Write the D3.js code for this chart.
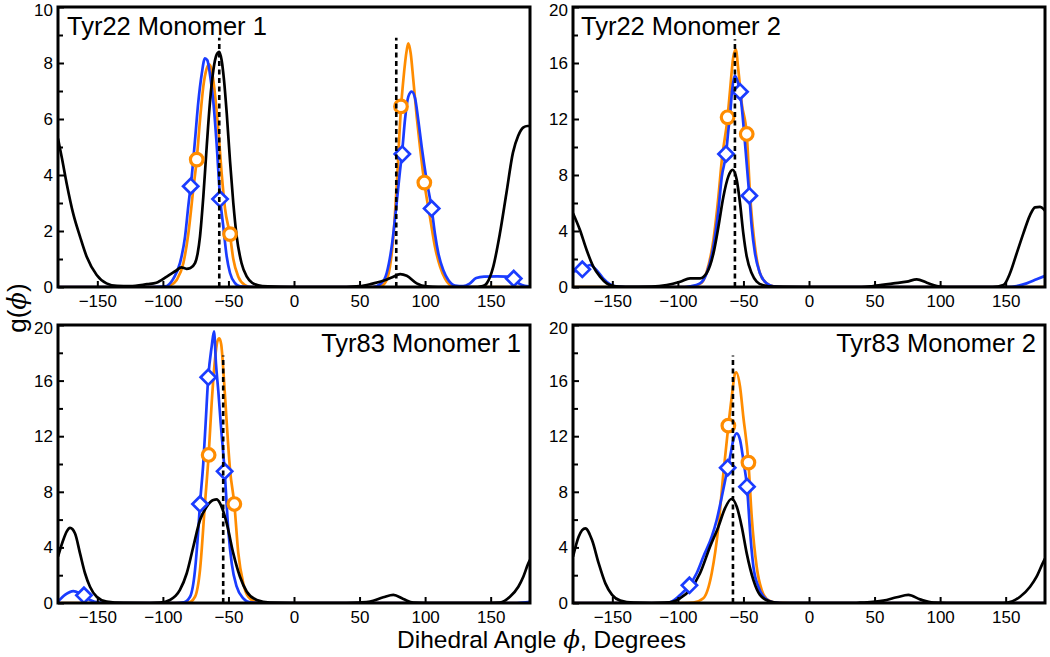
<!DOCTYPE html>
<html><head><meta charset="utf-8">
<script src="https://cdn.jsdelivr.net/npm/d3@7"></script>
<style>
body{margin:0;background:#fff}
svg{display:block}
text{font-family:"Liberation Sans",Arial,sans-serif;fill:#000}
</style>
</head><body>
<svg id="c" width="1050" height="657"></svg>
<script>
// ---------------- DATA ----------------
const panelTitles = ["Tyr22 Monomer 1", "Tyr22 Monomer 2", "Tyr83 Monomer 1", "Tyr83 Monomer 2"];
const xTicks = [-150, -100, -50, 0, 50, 100, 150];
const yMaxes = [10, 20, 20, 20];
const yMajorA = [0, 2, 4, 6, 8, 10];
const yMinorA = [1, 3, 5, 7, 9];
const yMajorB = [0, 4, 8, 12, 16, 20];
const yMinorB = [2, 6, 10, 14, 18];
const refAngles = [[-57, 78], [-56.5], [-54], [-58]];
const refHeights = [8.9, 17.7, 17.8, 17.8];

// Tyr22 Monomer 1
const p1Black = [[-180,5.3],[-177,4.6],[-173.4,3.7],[-168.3,2.6],[-163.2,1.8],[-158.1,1.08],[-150.5,0.43],[-143,0.13],[-135,0.04],[-125,0.03],[-112,0.1],[-105,0.15],[-97,0.37],[-90,0.58],[-86,0.7],[-82,0.65],[-79,0.68],[-75.5,0.85],[-73.5,1.2],[-71.7,1.8],[-69.2,3.2],[-66.6,5.0],[-64.1,6.6],[-61.5,7.75],[-59,8.3],[-57,8.4],[-55.2,8.1],[-53.4,7.4],[-51.3,6.2],[-48.8,4.5],[-46.3,3.0],[-43.7,1.8],[-40,0.85],[-36,0.37],[-32,0.15],[-28,0.07],[-20,0.02],[0,0],[40,0],[50,0.03],[58,0.1],[68,0.22],[75,0.35],[81,0.46],[86,0.4],[93.6,0.13],[101,0.02],[110,0],[140,0],[144,0.03],[147,0.13],[152,0.73],[157,1.9],[162,3.35],[167,4.8],[171,5.4],[175,5.7],[178,5.75],[180,5.75]];
const p1Blue = [[-180,0],[-110,0],[-98.4,0.02],[-92,0.3],[-87,0.85],[-83.1,1.8],[-80.6,2.9],[-78,3.95],[-75.5,5.25],[-73,6.6],[-70.4,7.6],[-67.9,8.17],[-66.1,8.1],[-64.1,7.6],[-61.5,6.6],[-59,5.1],[-56.4,3.2],[-53.9,2.15],[-51.3,1.08],[-48.8,0.5],[-45,0.14],[-41,0.02],[-30,0],[60,0],[66.8,0.14],[70.7,0.5],[74.5,1.44],[78.3,3.0],[80.5,4.0],[82.6,4.9],[84.7,6.0],[87.2,6.8],[89.8,6.98],[92.3,6.75],[94.8,5.96],[97.4,5.0],[101.2,3.8],[105,2.8],[107.5,1.9],[110.1,1.2],[113.9,0.6],[117.7,0.25],[122.8,0.05],[129,0.03],[134,0.12],[139,0.32],[145,0.37],[155,0.38],[162,0.37],[167.6,0.3],[172.4,0.1],[177.5,0.03],[180,0]];
const p1Orange = [[-180,0],[-100,0],[-94.6,0.05],[-89.5,0.25],[-84.4,0.85],[-80.6,1.9],[-76.8,3.5],[-74.2,4.55],[-71.7,5.96],[-69.2,7.15],[-66.6,7.8],[-64.6,7.95],[-62.8,7.75],[-60.3,6.9],[-57.7,5.6],[-55.2,4.07],[-52.6,2.8],[-48.8,1.85],[-46.3,1.0],[-42.5,0.37],[-37.4,0.07],[-33,0],[60,0],[66,0.03],[69.4,0.14],[73.2,0.73],[75.8,1.8],[78.3,3.6],[81.6,6.4],[83.4,7.4],[86,8.46],[87.2,8.7],[89,8.35],[91,7.4],[93.6,6.08],[96.1,5.0],[99.4,3.73],[103.7,2.5],[107.5,1.44],[111.4,0.73],[115.2,0.3],[120.3,0.04],[125,0],[180,0]];
const p1Diamonds = [[-78.8,3.6],[-56.4,3.14],[82.6,4.75],[105,2.8],[167.6,0.3]];
const p1Circles = [[-74.2,4.55],[-48.8,1.89],[81.6,6.45],[99.4,3.73]];

// Tyr22 Monomer 2
const p2Black = [[-180,5.27],[-174.7,4.07],[-169.6,2.64],[-164.5,1.45],[-159.4,0.74],[-154.3,0.26],[-149.3,0.07],[-140,0.01],[-120,0.03],[-108.5,0.14],[-98.3,0.38],[-90.7,0.62],[-83.1,0.62],[-78,1.0],[-72.9,2.4],[-69.1,4.3],[-65.3,6.45],[-61.5,7.9],[-58.2,8.36],[-55.1,7.64],[-52.6,5.98],[-50.1,3.83],[-47.5,2.17],[-43.7,0.98],[-39.9,0.38],[-34.8,0.12],[-27,0.02],[0,0],[40,0],[49,0.07],[64.4,0.26],[74.6,0.38],[82.2,0.55],[89.9,0.31],[97.5,0.07],[105,0],[140,0],[148.3,0.14],[153.3,0.98],[158.4,2.4],[163.5,3.83],[168.6,5.14],[172.4,5.69],[176.2,5.72],[180,5.45]];
const p2Blue = [[-180,1.1],[-172.9,1.26],[-167.1,1.57],[-162,1.2],[-157,0.62],[-151.9,0.21],[-146.8,0.03],[-140,0],[-95,0],[-90.7,0.05],[-83.1,0.26],[-78,1.0],[-72.9,2.88],[-69.1,5.5],[-66.5,7.88],[-63.3,9.5],[-61.5,11.2],[-60,12.5],[-58.9,13.8],[-56.6,15.1],[-54.5,14.7],[-52.6,13.95],[-51.3,12.88],[-48.8,10.26],[-45.5,6.52],[-43.7,4.31],[-41.2,2.4],[-37.4,0.98],[-32.3,0.26],[-27.2,0.05],[-20,0],[150,0],[160,0.1],[166,0.26],[173.6,0.55],[180,0.79]];
const p2Orange = [[-180,0],[-95,0],[-88.2,0.05],[-81.8,0.3],[-78,1.1],[-72.9,3.36],[-69.1,6.45],[-66.5,9.07],[-62.1,12.12],[-60.2,14.07],[-57.7,16.45],[-55.8,16.95],[-53.9,15.5],[-51.3,13.12],[-47.5,10.93],[-45,6.69],[-41.2,2.88],[-37.4,0.98],[-32.3,0.26],[-27,0.05],[-20,0],[180,0]];
const p2Diamonds = [[-172.9,1.26],[-63.3,9.5],[-52.6,13.95],[-45.5,6.52]];
const p2Circles = [[-62.1,12.12],[-47.5,10.93]];

// Tyr83 Monomer 1
const p3Black = [[-180,3.33],[-176,4.53],[-173.4,5.13],[-170.8,5.4],[-167,5.0],[-163.2,3.57],[-159.4,2.14],[-155.6,1.17],[-150.5,0.45],[-142.9,0.1],[-130,0.01],[-110,0],[-102.2,0.03],[-94.6,0.22],[-87,0.94],[-81.8,2.14],[-76.8,4.05],[-71.7,5.97],[-66.6,6.93],[-61.5,7.41],[-59,7.45],[-56.4,7.17],[-51.3,5.73],[-46.3,3.57],[-41.2,1.89],[-36,0.81],[-28.4,0.22],[-18.3,0.03],[0,0],[40,0],[50,0.03],[58,0.1],[68.1,0.41],[75.8,0.58],[83.4,0.29],[91,0.02],[100,0],[150,0],[157.1,0.03],[164.7,0.45],[171.1,1.17],[174.9,1.89],[178.7,2.85],[180,3.1]];
const p3Blue = [[-180,0.1],[-174.7,0.58],[-168.3,0.86],[-163.2,0.7],[-160.2,0.55],[-155.6,0.22],[-148,0.03],[-140,0],[-90,0],[-84,0.05],[-79.3,0.45],[-75.5,2.37],[-73,5.25],[-71.7,7.12],[-69.2,10.05],[-67.4,12.93],[-65.4,16.24],[-62.8,18.44],[-61,19.55],[-59.5,17.2],[-57.7,15.2],[-55.9,12.93],[-52.9,9.47],[-50.1,5.25],[-47.5,2.85],[-43.7,1.17],[-38.7,0.34],[-33.6,0.05],[-25,0],[170,0],[180,0.08]];
const p3Orange = [[-180,0],[-90,0],[-80,0.05],[-75.5,0.45],[-71.7,2.37],[-67.9,7.17],[-65.1,10.65],[-62.8,14.37],[-60.3,17.48],[-58.5,18.8],[-57,19.04],[-55.5,18.6],[-53.9,16.76],[-51.3,12.93],[-48.8,9.6],[-45.5,7.1],[-42.5,3.6],[-38.7,1.41],[-34.9,0.45],[-28.4,0.05],[-20,0],[180,0]];
const p3Diamonds = [[-160.2,0.55],[-71.7,7.12],[-65.4,16.24],[-52.9,9.47]];
const p3Circles = [[-65.1,10.65],[-45.5,7.12]];

// Tyr83 Monomer 2
const p4Black = [[-180,3.33],[-175.7,4.77],[-170.6,5.37],[-165.5,4.53],[-160.4,2.85],[-155.3,1.41],[-150.2,0.58],[-143.9,0.17],[-133.7,0.02],[-120,0],[-110,0.02],[-103.5,0.1],[-98.3,0.34],[-90.7,0.94],[-83.1,2.14],[-75.5,4.05],[-69.1,5.49],[-64.1,6.81],[-59,7.5],[-55.1,6.93],[-51.3,5.49],[-47.5,3.57],[-42.4,1.65],[-37.4,0.58],[-29.7,0.1],[-22,0],[35,0],[38.9,0.02],[56.7,0.17],[66.9,0.41],[75.8,0.58],[84.7,0.26],[94.9,0.02],[105,0],[145,0],[150.8,0.02],[161,0.45],[168.6,1.17],[173.6,1.89],[178.2,2.85],[180,3.2]];
const p4Blue = [[-180,0],[-110,0],[-106,0.05],[-98.3,0.58],[-91.2,1.27],[-85.7,2.14],[-80.6,3.33],[-74.2,4.77],[-70.4,5.97],[-66.5,7.65],[-62,9.73],[-60.2,10.52],[-57.7,11.73],[-55.1,12.2],[-52.6,11.73],[-50.1,10.29],[-47.3,8.37],[-44.5,4.6],[-42.4,2.61],[-38.6,1.17],[-33.5,0.34],[-27.2,0.05],[-20,0],[180,0]];
const p4Orange = [[-180,0],[-95,0],[-88.2,0.03],[-80.6,0.34],[-74.2,2.14],[-69.1,5.49],[-65.3,9.33],[-61.5,12.76],[-58.9,14.84],[-56.4,16.52],[-55.5,16.6],[-52.6,15.56],[-50.1,13.4],[-46.2,10.1],[-43.7,6.21],[-39.9,2.61],[-36.1,0.94],[-31,0.2],[-25,0.02],[-15,0],[180,0]];
const p4Diamonds = [[-91.2,1.27],[-62,9.73],[-47.3,8.37]];
const p4Circles = [[-61.5,12.76],[-46.2,10.1]];

// ---------------- LAYOUT / STYLE ----------------
const boxes = [
  {l:58, r:530, t:7, b:287, tx:67, ty:35, anchor:"start"},
  {l:573, r:1045, t:7, b:287, tx:581, ty:35, anchor:"start"},
  {l:58, r:530, t:325, b:603, tx:521, ty:352, anchor:"end"},
  {l:573, r:1045, t:325, b:603, tx:1036, ty:352, anchor:"end"}
];
const series = [
  {black:p1Black, blue:p1Blue, orange:p1Orange, dia:p1Diamonds, cir:p1Circles},
  {black:p2Black, blue:p2Blue, orange:p2Orange, dia:p2Diamonds, cir:p2Circles},
  {black:p3Black, blue:p3Blue, orange:p3Orange, dia:p3Diamonds, cir:p3Circles},
  {black:p4Black, blue:p4Blue, orange:p4Orange, dia:p4Diamonds, cir:p4Circles}
];
const BLUE = "#1a3cff", ORANGE = "#ff8c00";

const svg = d3.select("#c");

boxes.forEach((bx, i) => {
  const x = d3.scaleLinear().domain([-180, 180]).range([bx.l, bx.r]);
  const y = d3.scaleLinear().domain([0, yMaxes[i]]).range([bx.b, bx.t]);
  const g = svg.append("g");
  const clipId = "clip" + i;
  svg.append("clipPath").attr("id", clipId).append("rect")
    .attr("x", bx.l).attr("y", bx.t - 20).attr("width", bx.r - bx.l).attr("height", bx.b - bx.t + 20);

  const line = d3.line().x(d => x(d[0])).y(d => y(d[1])).curve(d3.curveMonotoneX);
  const plot = g.append("g").attr("clip-path", `url(#${clipId})`);
  const d = series[i];
  plot.append("path").datum(d.orange).attr("d", line).attr("fill", "none").attr("stroke", ORANGE).attr("stroke-width", 2.7).attr("stroke-linejoin","round");
  plot.append("path").datum(d.blue).attr("d", line).attr("fill", "none").attr("stroke", BLUE).attr("stroke-width", 2.7).attr("stroke-linejoin","round");
  plot.append("path").datum(d.black).attr("d", line).attr("fill", "none").attr("stroke", "#000").attr("stroke-width", 2.7).attr("stroke-linejoin","round");

  // markers
  plot.selectAll("path.dia").data(d.dia).join("path").attr("class", "dia")
    .attr("d", p => { const cx = x(p[0]), cy = y(p[1]), s = 7.6; return `M${cx},${cy - s}L${cx + s},${cy}L${cx},${cy + s}L${cx - s},${cy}Z`; })
    .attr("fill", "#fff").attr("stroke", BLUE).attr("stroke-width", 2.7);
  plot.selectAll("circle.cir").data(d.cir).join("circle").attr("class", "cir")
    .attr("cx", p => x(p[0])).attr("cy", p => y(p[1])).attr("r", 6.3)
    .attr("fill", "#fff").attr("stroke", ORANGE).attr("stroke-width", 3.2);

  // reference dashed lines
  plot.selectAll("line.ref").data(refAngles[i]).join("line").attr("class", "ref")
    .attr("x1", a => x(a)).attr("x2", a => x(a)).attr("y1", y(0)).attr("y2", y(refHeights[i]))
    .attr("stroke", "#000").attr("stroke-width", 2.6).attr("stroke-dasharray", "5,3.5");

  // axes
  const major = i === 0 ? yMajorA : yMajorB;
  const minor = i === 0 ? yMinorA : yMinorB;
  const ax = g.append("g").attr("transform", `translate(0,${bx.b})`)
    .call(d3.axisBottom(x).tickValues(xTicks).tickSizeInner(-6).tickSizeOuter(0).tickPadding(8));
  const ay = g.append("g").attr("transform", `translate(${bx.l},0)`)
    .call(d3.axisLeft(y).tickValues(major).tickSizeInner(-6).tickSizeOuter(0).tickPadding(5));
  const ay2 = g.append("g").attr("transform", `translate(${bx.l},0)`)
    .call(d3.axisLeft(y).tickValues(minor).tickFormat("").tickSizeInner(-5).tickSizeOuter(0));
  [ax, ay, ay2].forEach(a => {
    a.select(".domain").remove();
    a.selectAll("line").attr("stroke", "#000").attr("stroke-width", 2);
    a.selectAll("text").attr("font-size", 17).attr("font-family", '"Liberation Sans", Arial, sans-serif').attr("fill", "#000");
  });
  // top label sits slightly below the frame top, as in the reference
  ay.selectAll(".tick text").filter(v => v === yMaxes[i]).attr("dy", "0.52em");

  // frame
  g.append("rect").attr("x", bx.l).attr("y", bx.t).attr("width", bx.r - bx.l).attr("height", bx.b - bx.t)
    .attr("fill", "none").attr("stroke", "#000").attr("stroke-width", 3);

  // title
  g.append("text").attr("x", bx.tx).attr("y", bx.ty).attr("text-anchor", bx.anchor)
    .attr("font-size", 25.5).text(panelTitles[i]);
});

// axis titles
const yl = svg.append("text").attr("transform", "translate(26,308) rotate(-90)").attr("text-anchor", "middle").attr("font-size", 26);
yl.append("tspan").text("g(");
yl.append("tspan").attr("font-family", '"DejaVu Serif", "Liberation Serif", serif').attr("font-style", "italic").text("ϕ");
yl.append("tspan").text(")");

const xl = svg.append("text").attr("x", 397).attr("y", 648).attr("font-size", 24.5);
xl.append("tspan").text("Dihedral Angle ");
xl.append("tspan").attr("font-family", '"DejaVu Serif", "Liberation Serif", serif').attr("font-style", "italic").text("ϕ");
xl.append("tspan").text(", Degrees");
</script>
</body></html>
